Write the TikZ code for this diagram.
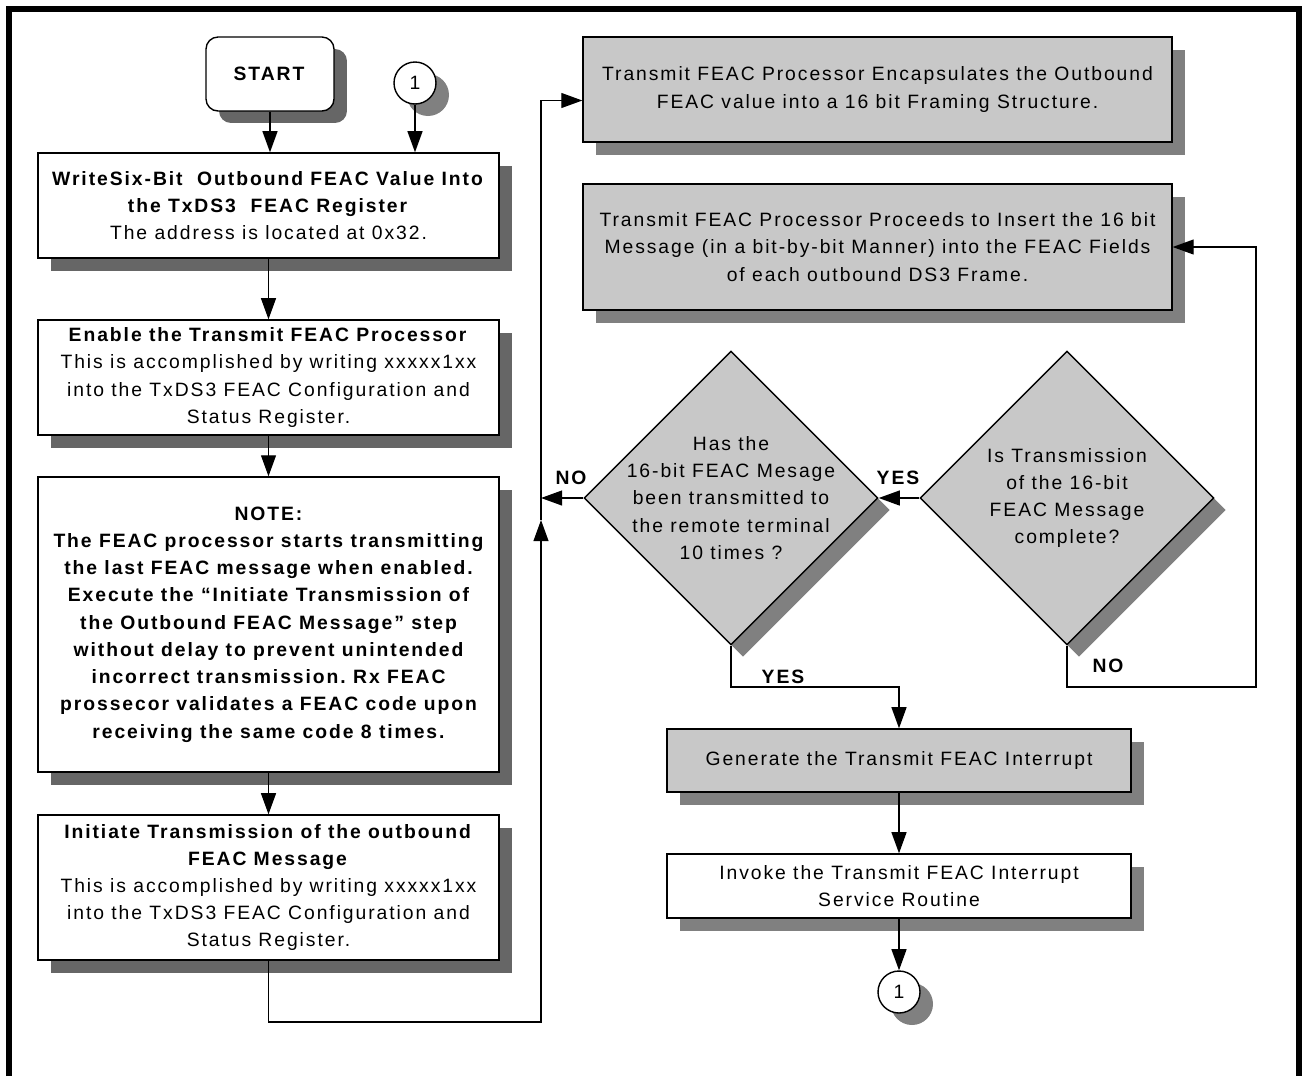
\documentclass[tikz,border=0pt]{standalone}
\usepackage{fontspec}
\setmainfont{Liberation Sans}[LetterSpace=10]
\usetikzlibrary{arrows.meta,positioning,shapes.geometric,shadows,calc}

\definecolor{boxgray}{HTML}{C8C8C8}
\definecolor{shadedark}{HTML}{666666}
\definecolor{shadelight}{HTML}{808080}
\newcommand{\flowfont}{\fontsize{11}{15.5}\selectfont}
\frenchspacing

\begin{document}
\begin{tikzpicture}[
    x=0.02cm, y=-0.02cm,
    plain/.style={draw, line width=0.8pt, align=center, font=\flowfont, inner sep=2pt},
    box/.style={plain, fill=white, minimum width=9.22cm, general shadow={fill=shadedark, shadow xshift=0.26cm, shadow yshift=-0.26cm}},
    graybox/.style={plain, fill=boxgray, general shadow={fill=shadelight, shadow xshift=0.26cm, shadow yshift=-0.26cm}},
    whitebox/.style={plain, fill=white, general shadow={fill=shadelight, shadow xshift=0.26cm, shadow yshift=-0.26cm}},
    decision/.style={plain, diamond, aspect=1, minimum width=5.88cm, minimum height=5.88cm, inner sep=-0.5cm, fill=boxgray, general shadow={fill=shadelight, shadow xshift=0.24cm, shadow yshift=-0.24cm}},
    startbox/.style={plain, rounded corners=0.24cm, fill=white, minimum width=2.56cm, minimum height=1.48cm, general shadow={fill=shadedark, shadow xshift=0.26cm, shadow yshift=-0.24cm}},
    conn/.style={draw, circle, line width=0.8pt, minimum size=0.84cm, inner sep=0pt, fill=white, font=\flowfont, general shadow={fill=shadelight, shadow xshift=0.26cm, shadow yshift=-0.24cm}},
    arrow/.style={-{Triangle[length=12pt, width=8.5pt]}, line width=0.8pt},
    yesno/.style={font=\flowfont\bfseries}
]
\useasboundingbox (0,0) rectangle (1304,1076);

% frame
\draw[line width=3.1pt] (9,1076) -- (9,9) -- (1299,9) -- (1299,1076);

% left column
\node[startbox] (start) at (270,74) {\textbf{START}};
\node[conn] (con1) at (415,83) {1};

\node[box, minimum height=2.1cm] (write) at (268.5,205.5) {\textbf{WriteSix-Bit~ Outbound FEAC Value Into}\\\textbf{the TxDS3~ FEAC Register}\\The address is located at 0x32.};
\node[box, minimum height=2.3cm] (enable) at (268.5,377.5) {\textbf{Enable the Transmit FEAC Processor}\\This is accomplished by writing xxxxx1xx\\into the TxDS3 FEAC Configuration and\\Status Register.};
\node[box, minimum height=5.9cm, font=\flowfont\bfseries] (note) at (268.5,624.5) {NOTE:\\The FEAC processor starts transmitting\\the last FEAC message when enabled.\\Execute the “Initiate Transmission of\\the Outbound FEAC Message” step\\without delay to prevent unintended\\incorrect transmission. Rx FEAC\\prossecor validates a FEAC code upon\\receiving the same code 8 times.};
\node[box, minimum height=2.9cm] (initiate) at (268.5,887.5) {\textbf{Initiate Transmission of the outbound}\\\textbf{FEAC Message}\\This is accomplished by writing xxxxx1xx\\into the TxDS3 FEAC Configuration and\\Status Register.};

\draw[arrow] (start.south) -- (start.south |- write.north);
\draw[arrow] (con1.south) -- (con1.south |- write.north);
\draw[arrow] (write) -- (enable);
\draw[arrow] (enable) -- (note);
\draw[arrow] (note) -- (initiate);

% right column
\node[graybox, minimum width=11.78cm, minimum height=2.1cm] (encap) at (877.5,89.5) {Transmit FEAC Processor Encapsulates the Outbound\\FEAC value into a 16 bit Framing Structure.};
\node[graybox, minimum width=11.78cm, minimum height=2.52cm] (insert) at (877.5,247) {Transmit FEAC Processor Proceeds to Insert the 16 bit\\Message (in a bit-by-bit Manner) into the FEAC Fields\\of each outbound DS3 Frame.};

\node[decision] (sent) at (731,498) {Has the\\16-bit FEAC Mesage\\been transmitted to\\the remote terminal\\10 times ?};
\node[decision] (done) at (1067,498) {Is Transmission\\of the 16-bit\\FEAC Message\\complete?};

\node[graybox, minimum width=9.28cm, minimum height=1.26cm] (gen) at (899,760.5) {Generate the Transmit FEAC Interrupt};
\node[whitebox, minimum width=9.28cm, minimum height=1.28cm] (isr) at (899,886) {Invoke the Transmit FEAC Interrupt\\Service Routine};
\node[conn] (con2) at (899,992) {1};

% loop back to the encapsulation step
\coordinate (lpb) at (541,1022);
\coordinate (lpm) at (541,520);
\draw[arrow] (initiate.south) |- (lpb) -- (lpm);
\draw[arrow] (lpm) |- ([yshift=-0.22cm]encap.west);

% decisions
\draw[arrow] (done.west) -- (sent.east);
\node[yesno] (yes1) at (898,478) {YES};
\draw[arrow] (sent.west) -- (sent.west -| lpm);
\node[yesno] (no1) at (571,478) {NO};

\coordinate (yj) at (731,687);
\draw[arrow] (sent.south) |- (yj -| gen.north) -- (gen.north);
\node[yesno] (yes2) at (783,677) {YES};

\coordinate (nj) at (1256,687);
\draw[arrow] (done.south) |- (nj) |- (insert.east);
\node[yesno] (no2) at (1108,666) {NO};

\draw[arrow] (gen) -- (isr);
\draw[arrow] (isr) -- (con2);

\end{tikzpicture}
\end{document}
